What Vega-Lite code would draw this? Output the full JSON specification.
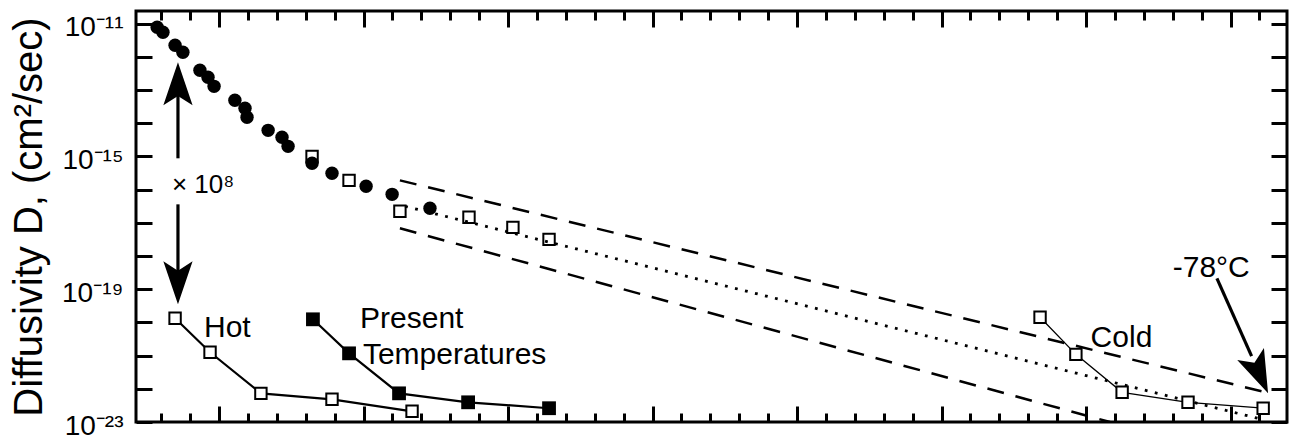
{
  "$schema": "https://vega.github.io/schema/vega-lite/v6.json",
  "width": 1151,
  "height": 411,
  "autosize": "none",
  "padding": {"left": 136, "top": 11, "right": 8, "bottom": 18},
  "background": "white",
  "config": {
    "view": {"stroke": "black", "strokeWidth": 3},
    "font": "Liberation Sans",
    "axis": {
      "domain": false,
      "grid": false,
      "tickColor": "black",
      "tickWidth": 3,
      "labelColor": "black",
      "labelFont": "Liberation Sans",
      "labelFontSize": 28,
      "titleFont": "Liberation Sans",
      "titleColor": "black",
      "titleFontWeight": "normal"
    }
  },
  "datasets": {
    "circles": [
      {"x": 2.86, "D": 7.75e-12},
      {"x": 3.06, "D": 5.47e-12},
      {"x": 3.48, "D": 2.22e-12},
      {"x": 3.75, "D": 1.37e-12},
      {"x": 4.34, "D": 3.92e-13},
      {"x": 4.62, "D": 2.42e-13},
      {"x": 4.83, "D": 1.29e-13},
      {"x": 5.55, "D": 4.9e-14},
      {"x": 5.9, "D": 2.81e-14},
      {"x": 5.97, "D": 1.51e-14},
      {"x": 6.7, "D": 6.1e-15},
      {"x": 7.18, "D": 3.76e-15},
      {"x": 7.39, "D": 2.01e-15},
      {"x": 8.22, "D": 6.2e-16},
      {"x": 8.91, "D": 3.1e-16},
      {"x": 10.09, "D": 1.26e-16},
      {"x": 10.99, "D": 7.2e-17},
      {"x": 12.3, "D": 2.73e-17}
    ],
    "squares": [
      {"x": 8.22, "D": 1.0e-15},
      {"x": 9.5, "D": 1.9e-16},
      {"x": 11.26, "D": 2.22e-17},
      {"x": 13.65, "D": 1.47e-17},
      {"x": 15.17, "D": 7.3e-18},
      {"x": 16.42, "D": 3.18e-18}
    ],
    "runs": [
      {"run": "Hot", "x": 3.48, "D": 1.33e-20},
      {"run": "Hot", "x": 4.69, "D": 1.26e-21},
      {"run": "Hot", "x": 6.45, "D": 7.3e-23},
      {"run": "Hot", "x": 8.91, "D": 4.83e-23},
      {"run": "Hot", "x": 11.68, "D": 2.1e-23},
      {"run": "Present", "x": 8.25, "D": 1.24e-20},
      {"run": "Present", "x": 9.5, "D": 1.17e-21},
      {"run": "Present", "x": 11.23, "D": 7.3e-23},
      {"run": "Present", "x": 13.62, "D": 3.92e-23},
      {"run": "Present", "x": 16.42, "D": 2.6e-23},
      {"run": "Cold", "x": 33.41, "D": 1.43e-20},
      {"run": "Cold", "x": 34.65, "D": 1.09e-21},
      {"run": "Cold", "x": 36.25, "D": 7.85e-23},
      {"run": "Cold", "x": 38.53, "D": 3.92e-23},
      {"run": "Cold", "x": 41.13, "D": 2.6e-23}
    ],
    "bounds": [
      {"id": "upper", "x": 11.26, "D": 1.9e-16},
      {"id": "upper", "x": 41.37, "D": 7.31e-23},
      {"id": "lower", "x": 11.26, "D": 6.82e-18},
      {"id": "lower", "x": 35.83, "D": 1.0e-23}
    ],
    "trend": [
      {"x": 11.44, "D": 3.14e-17},
      {"x": 40.95, "D": 1.29e-23}
    ],
    "shafts": [
      {"x": 3.58, "D": 8.77e-16, "x2": 3.58, "D2": 2.5e-13},
      {"x": 3.58, "D": 3.6e-17, "x2": 3.58, "D2": 9.1e-20},
      {"x": 39.53, "D": 2.13e-19, "x2": 40.73, "D2": 9.7e-22}
    ],
    "heads": [
      {"dir": "up", "x": 3.58, "D": 6.82e-13},
      {"dir": "down", "x": 3.58, "D": 3.51e-20},
      {"dir": "diag", "x": 41.3, "D": 7.31e-23}
    ],
    "labels": [
      {"text": "Hot", "x": 4.48, "D": 3.63e-21},
      {"text": "Present", "x": 9.88, "D": 6.64e-21},
      {"text": "Temperatures", "x": 9.98, "D": 5.74e-22},
      {"text": "Cold", "x": 35.16, "D": 1.82e-21},
      {"text": "-78°C", "x": 38.0, "D": 2.33e-19}
    ],
    "factor": [
      {"text": "× 10⁸", "x": 3.37, "D": 8.18e-17}
    ]
  },
  "layer": [
    {
      "encoding": {
        "x": {"field": "x", "type": "quantitative",
          "scale": {"domain": [2.128, 41.955], "nice": false, "zero": false},
          "axis": {
            "orient": "bottom", "title": null, "labels": false,
            "values": [3,4,5,6,7,8,9,10,11,12,13,14,15,16,17,18,19,20,21,22,23,24,25,26,27,28,29,30,31,32,33,34,35,36,37,38,39,40,41],
            "tickSize": {"condition": {"test": "datum.value % 5 === 0", "value": -16}, "value": -9}
          }
        },
        "y": {"field": "D", "type": "quantitative",
          "scale": {"type": "log", "domain": [1e-23, 2.4e-11], "nice": false},
          "axis": {
            "orient": "left",
            "values": [1e-23,1e-22,1e-21,1e-20,1e-19,1e-18,1e-17,1e-16,1e-15,1e-14,1e-13,1e-12,1e-11],
            "tickSize": -16,
            "labelPadding": 29,
            "labelOverlap": false,
            "labelBaseline": "middle",
            "labelOffset": 4,
            "labelExpr": "round(log(datum.value)/LN10) == -11 ? '10⁻¹¹' : round(log(datum.value)/LN10) == -15 ? '10⁻¹⁵' : round(log(datum.value)/LN10) == -19 ? '10⁻¹⁹' : round(log(datum.value)/LN10) == -23 ? '10⁻²³' : ''",
            "title": "Diffusivity D, (cm²/sec)",
            "titleFontSize": 40,
            "titlePadding": 12
          }
        }
      },
      "layer": [
        {
          "data": {"name": "bounds"},
          "mark": {"type": "line", "color": "black", "strokeWidth": 2.5, "strokeDash": [17, 12], "clip": true},
          "encoding": {"detail": {"field": "id"}}
        },
        {
          "data": {"name": "squares"},
          "mark": {"type": "point", "shape": "square", "size": 130, "filled": false, "fill": "white", "stroke": "black", "strokeWidth": 2, "opacity": 1}
        },
        {
          "data": {"name": "trend"},
          "mark": {"type": "line", "color": "black", "strokeWidth": 2.8, "strokeDash": [2.8, 7.5]}
        },
        {
          "data": {"name": "circles"},
          "mark": {"type": "circle", "size": 180, "color": "black", "opacity": 1}
        },
        {
          "data": {"name": "runs"},
          "transform": [{"filter": "datum.run !== 'Cold'"}],
          "mark": {"type": "line", "color": "black", "strokeWidth": 2.2},
          "encoding": {"detail": {"field": "run"}}
        },
        {
          "data": {"name": "runs"},
          "transform": [{"filter": "datum.run === 'Cold'"}],
          "mark": {"type": "line", "color": "black", "strokeWidth": 1.3}
        },
        {
          "data": {"name": "runs"},
          "transform": [{"filter": "datum.run !== 'Present'"}],
          "mark": {"type": "point", "shape": "square", "size": 130, "filled": false, "fill": "white", "stroke": "black", "strokeWidth": 2, "opacity": 1}
        },
        {
          "data": {"name": "runs"},
          "transform": [{"filter": "datum.run === 'Present'"}],
          "mark": {"type": "point", "shape": "square", "size": 190, "filled": true, "color": "black", "opacity": 1}
        },
        {
          "data": {"name": "shafts"},
          "mark": {"type": "rule", "color": "black", "strokeWidth": 3.2},
          "encoding": {"x2": {"field": "x2"}, "y2": {"field": "D2"}}
        },
        {
          "data": {"name": "heads"},
          "transform": [{"filter": "datum.dir === 'up'"}],
          "mark": {"type": "point", "shape": "M0,0 L0.34,1 L0,0.78 L-0.34,1 Z", "size": 7396, "filled": true, "color": "black", "strokeWidth": 0, "opacity": 1}
        },
        {
          "data": {"name": "heads"},
          "transform": [{"filter": "datum.dir === 'down'"}],
          "mark": {"type": "point", "shape": "M0,0 L0.34,-1 L0,-0.78 L-0.34,-1 Z", "size": 7396, "filled": true, "color": "black", "strokeWidth": 0, "opacity": 1}
        },
        {
          "data": {"name": "heads"},
          "transform": [{"filter": "datum.dir === 'diag'"}],
          "mark": {"type": "point", "shape": "M0,0 L0.34,-1 L0,-0.78 L-0.34,-1 Z", "size": 7396, "angle": -24, "filled": true, "color": "black", "strokeWidth": 0, "opacity": 1}
        },
        {
          "data": {"name": "labels"},
          "mark": {"type": "text", "align": "left", "baseline": "alphabetic", "fontSize": 30, "color": "black", "font": "Liberation Sans"},
          "encoding": {"text": {"field": "text"}}
        },
        {
          "data": {"name": "factor"},
          "mark": {"type": "text", "align": "left", "baseline": "alphabetic", "fontSize": 26, "color": "black", "font": "Liberation Sans"},
          "encoding": {"text": {"field": "text"}}
        }
      ]
    },
    {
      "data": {"name": "trend"},
      "mark": {"type": "line", "opacity": 0},
      "encoding": {
        "x": {"field": "x", "type": "quantitative",
          "scale": {"domain": [2.128, 41.955], "nice": false, "zero": false},
          "axis": {
            "orient": "top", "title": null, "labels": false,
            "values": [3,4,5,6,7,8,9,10,11,12,13,14,15,16,17,18,19,20,21,22,23,24,25,26,27,28,29,30,31,32,33,34,35,36,37,38,39,40,41],
            "tickSize": {"condition": {"test": "datum.value % 5 === 0", "value": -16}, "value": -9}
          }
        },
        "y": {"field": "D", "type": "quantitative",
          "scale": {"type": "log", "domain": [1e-23, 2.4e-11], "nice": false},
          "axis": {
            "orient": "right", "title": null, "labels": false,
            "values": [1e-23,1e-22,1e-21,1e-20,1e-19,1e-18,1e-17,1e-16,1e-15,1e-14,1e-13,1e-12,1e-11],
            "tickSize": -16
          }
        }
      }
    }
  ],
  "resolve": {"scale": {"x": "independent", "y": "independent"}}
}
